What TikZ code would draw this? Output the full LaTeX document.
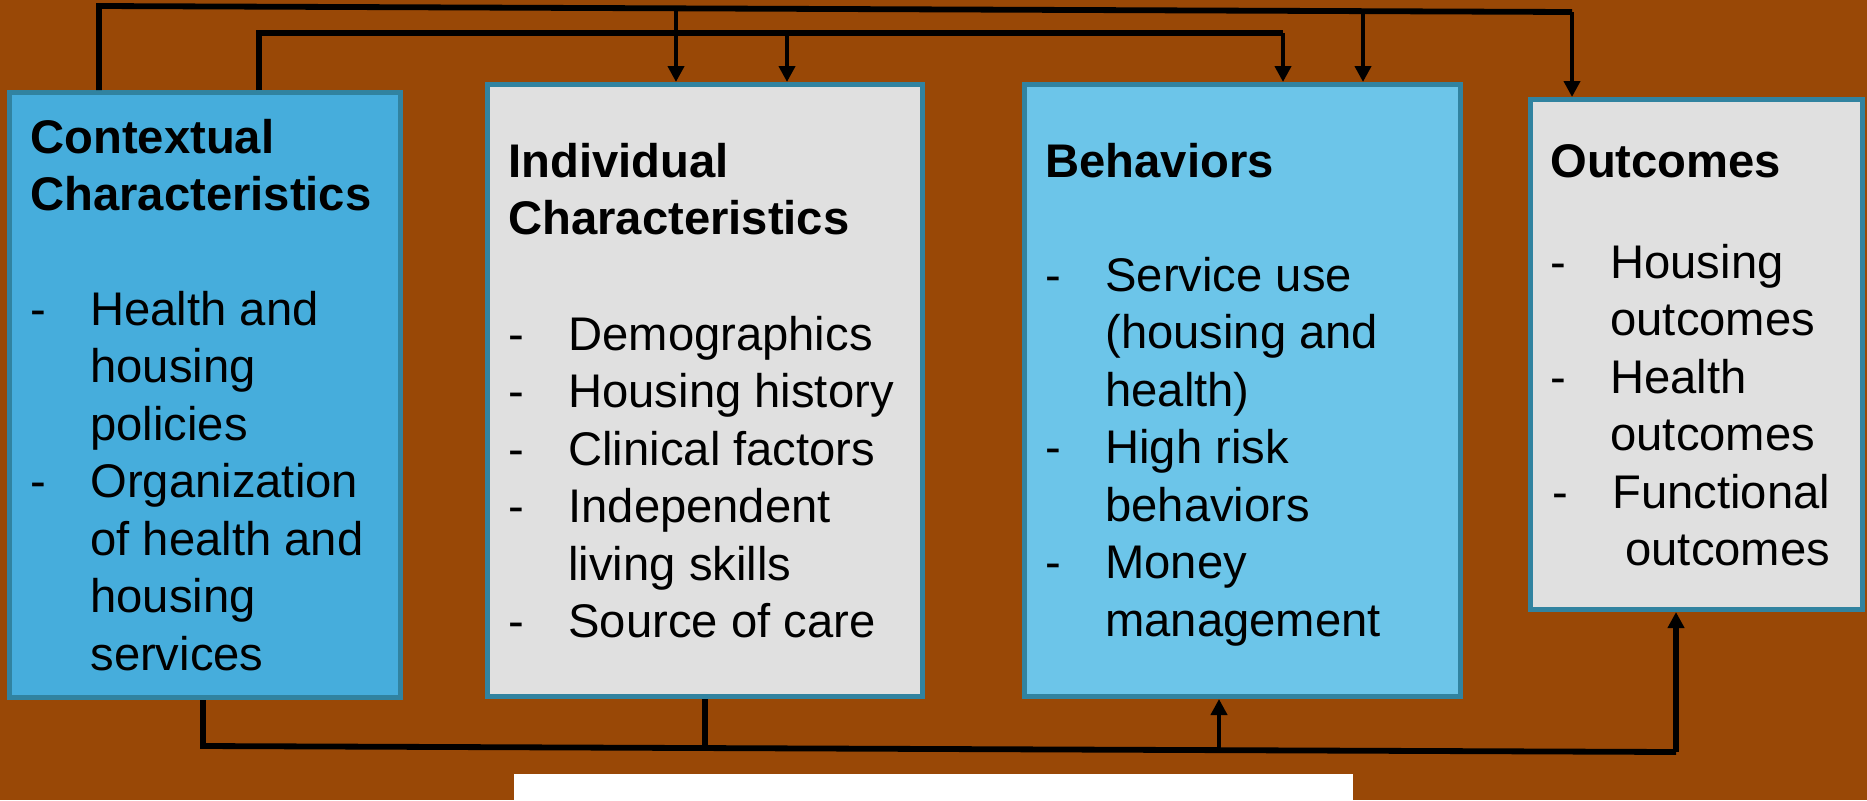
\documentclass[tikz,border=0pt]{standalone}
\usepackage{fontspec}
\setmainfont{Liberation Sans}
\usetikzlibrary{arrows.meta}
\definecolor{bgbrown}{RGB}{153,72,6}
\definecolor{edgeteal}{RGB}{49,131,160}
\definecolor{ctxblue}{RGB}{70,173,220}
\definecolor{behblue}{RGB}{108,197,233}
\definecolor{boxgray}{RGB}{224,224,224}
\newcommand{\dashitem}[1]{\makebox[30pt][l]{-}#1}
\newcommand{\contline}[1]{\hspace*{30pt}#1}
\begin{document}
\begin{tikzpicture}
	[
	x=0.5pt, y=-0.5pt,
	bx/.style={draw = edgeteal, line width = 2.5pt, shape = rectangle, inner sep = 0pt},
	ttl/.style={anchor = north west, inner sep = 0pt, align = left, font = {\fontsize{23.6}{28.75}\selectfont\bfseries}},
	lst/.style={anchor = north west, inner sep = 0pt, align = left, font = {\fontsize{23.6}{28.75}\selectfont}},
	wire/.style={draw = black, line width = 2.9pt},
	arr/.style={draw = black, line width = 2.1pt, -{Triangle[width=8pt, length=8pt]}}
	]
	
	\useasboundingbox (0,0) rectangle (1867,800);
	\fill[bgbrown] (0,0) rectangle (1867,800);
	
	\node[bx, fill = ctxblue, minimum width = 195.5pt, minimum height = 302.5pt](ctx) at (205,395){};
	\node[bx, fill = boxgray, minimum width = 217.5pt, minimum height = 306pt](ind) at (705,390.5){};
	\node[bx, fill = behblue, minimum width = 218pt, minimum height = 306pt](beh) at (1242.5,390.5){};
	\node[bx, fill = boxgray, minimum width = 166pt, minimum height = 255pt](outc) at (1696.5,354.5){};
	
	\node[ttl](ctx-t) at (30,112.75){\strut Contextual\\Characteristics};
	\node[lst](ctx-l) at (30,284.75){\strut\dashitem{Health and}\\\contline{housing}\\\contline{policies}\\
		\dashitem{Organization}\\\contline{of health and}\\\contline{housing}\\\contline{services}};
	
	\node[ttl](ind-t) at (508,136.75){\strut Individual\\Characteristics};
	\node[lst](ind-l) at (508,309.75){\strut\dashitem{Demographics}\\\dashitem{Housing history}\\
		\dashitem{Clinical factors}\\\dashitem{Independent}\\\contline{living skills}\\\dashitem{Source of care}};
	
	\node[ttl](beh-t) at (1045,136.75){\strut Behaviors};
	\node[lst](beh-l) at (1045,250.75){\strut\dashitem{Service use}\\\contline{(housing and}\\\contline{health)}\\
		\dashitem{High risk}\\\contline{behaviors}\\\dashitem{Money}\\\contline{management}};
	
	\node[ttl](outc-t) at (1550,136.75){\strut Outcomes};
	\node[lst](outc-l) at (1550,237.75){\strut\dashitem{Housing}\\\contline{outcomes}\\\dashitem{Health}\\
		\contline{outcomes}\\\hspace*{1pt}\dashitem{Functional}\\\hspace*{7.5pt}\contline{outcomes}};
	
	% feedback lines over the top
	\coordinate (a1) at (99,6);
	\coordinate (a2) at (1572,12);
	\coordinate (a3) at (676,8.4);
	\coordinate (a4) at (1363,11.1);
	\coordinate (b1) at (259,33);
	\coordinate (b2) at (1283,33);
	\coordinate (b3) at (787,33);
	
	\draw[wire] (ctx.north -| a1) -- (a1) -- (a2);
	\draw[wire] (ctx.north -| b1) -- (b1) -- (b2);
	\draw[arr] (a3) -- (ind.north -| a3);
	\draw[arr] (b3) -- (ind.north -| b3);
	\draw[arr] (b2) -- (beh.north -| b2);
	\draw[arr] (a4) -- (beh.north -| a4);
	\draw[arr] (a2) -- (outc.north -| a2);
	
	% lines along the bottom
	\coordinate (c1) at (203,746);
	\coordinate (c2) at (1676,752);
	\coordinate (c3) at (705,747.4);
	\coordinate (c4) at (1219,750.1);
	
	\draw[wire] (ctx.south -| c1) -- (c1) -- (c2);
	\draw[wire] (ind.south -| c3) -- (c3);
	\draw[arr] (c4) -- (beh.south -| c4);
	\draw[arr, line width = 2.7pt] (c2) -- (outc.south -| c2);
	
	\fill[white] (514,774) rectangle (1353,800);
\end{tikzpicture}
\end{document}
